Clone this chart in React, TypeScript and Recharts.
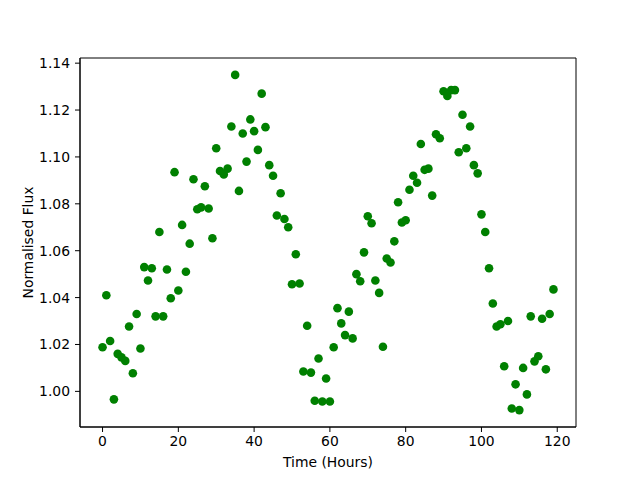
import React from "react";
import {
  ScatterChart,
  Scatter,
  XAxis,
  YAxis,
  ReferenceArea,
} from "recharts";

// hours since start of observation
const hours = [
  0, 1, 2, 3, 4, 5, 6, 7, 8, 9, 10, 11, 12, 13, 14, 15, 16, 17, 18, 19,
  20, 21, 22, 23, 24, 25, 26, 27, 28, 29, 30, 31, 32, 33, 34, 35, 36, 37, 38, 39,
  40, 41, 42, 43, 44, 45, 46, 47, 48, 49, 50, 51, 52, 53, 54, 55, 56, 57, 58, 59,
  60, 61, 62, 63, 64, 65, 66, 67, 68, 69, 70, 71, 72, 73, 74, 75, 76, 77, 78, 79,
  80, 81, 82, 83, 84, 85, 86, 87, 88, 89, 90, 91, 92, 93, 94, 95, 96, 97, 98, 99,
  100, 101, 102, 103, 104, 105, 106, 107, 108, 109, 110, 111, 112, 113, 114, 115, 116, 117, 118, 119,
];

// normalised flux, one reading per hour
const flux = [
  1.0188, 1.041, 1.0215, 0.9966, 1.016, 1.0145, 1.013, 1.0277, 1.0077, 1.033,
  1.0183, 1.053, 1.0473, 1.0525, 1.032, 1.068, 1.032, 1.052, 1.0397, 1.0935,
  1.043, 1.071, 1.051, 1.063, 1.0905, 1.0777, 1.0785, 1.0875, 1.078, 1.0653,
  1.1037, 1.094, 1.0925, 1.095, 1.113, 1.135, 1.0855, 1.11, 1.098, 1.116,
  1.111, 1.103, 1.127, 1.1127, 1.0965, 1.092, 1.075, 1.0845, 1.0735, 1.07,
  1.0457, 1.0585, 1.046, 1.0085, 1.028, 1.008, 0.996, 1.014, 0.9957, 1.0055,
  0.9957, 1.0188, 1.0355, 1.029, 1.024, 1.034, 1.0226, 1.05, 1.047, 1.0593,
  1.0747, 1.0717, 1.0473, 1.042, 1.019, 1.0567, 1.055, 1.064, 1.0807, 1.072,
  1.073, 1.086, 1.092, 1.089, 1.1055, 1.0945, 1.095, 1.0835, 1.1097, 1.108,
  1.128, 1.126, 1.1285, 1.1285, 1.102, 1.118, 1.1037, 1.113, 1.0965, 1.093,
  1.0755, 1.068, 1.0525, 1.0375, 1.0277, 1.0286, 1.0107, 1.03, 0.9927, 1.003,
  0.992, 1.01, 0.9987, 1.032, 1.0128, 1.015, 1.031, 1.0094, 1.033, 1.0435,
];

const xTicks = [0, 20, 40, 60, 80, 100, 120];
const yTicks = [1.0, 1.02, 1.04, 1.06, 1.08, 1.1, 1.12, 1.14];

const X_DOMAIN: [number, number] = [-5.95, 124.95];
const Y_DOMAIN: [number, number] = [0.9848, 1.1422];

const data = hours.map((h, i) => ({ hour: h, flux: flux[i] }));

const FONT = "DejaVu Sans";
const tickStyle = { fill: "#000", fontSize: 13.9, fontFamily: FONT };

const Dot = (props: any) => (
  <circle cx={props.cx} cy={props.cy} r={4.3} fill="#008000" />
);

const App: React.FC = () => (
  <div style={{ position: "fixed", left: 0, top: 0, background: "#fff" }}>
    <ScatterChart
      width={640}
      height={480}
      margin={{ top: 58, right: 64, bottom: 0, left: 0 }}
    >
      <XAxis
        type="number"
        dataKey="hour"
        domain={X_DOMAIN}
        ticks={xTicks}
        allowDataOverflow
        height={53}
        tick={tickStyle}
        tickSize={5}
        tickMargin={4}
        axisLine={{ stroke: "#000" }}
        tickLine={{ stroke: "#000" }}
        label={{
          value: "Time (Hours)",
          position: "insideBottom",
          offset: 13,
          style: { fill: "#000", fontSize: 13.9, fontFamily: FONT },
        }}
      />
      <YAxis
        type="number"
        dataKey="flux"
        domain={Y_DOMAIN}
        ticks={yTicks}
        allowDataOverflow
        width={80}
        tick={tickStyle}
        tickSize={5}
        tickMargin={5}
        tickFormatter={(v: number) => v.toFixed(2)}
        axisLine={{ stroke: "#000" }}
        tickLine={{ stroke: "#000" }}
        label={{
          value: "Normalised Flux",
          angle: -90,
          position: "insideLeft",
          offset: 28,
          style: {
            fill: "#000",
            fontSize: 13.9,
            fontFamily: FONT,
            textAnchor: "middle",
          },
        }}
      />
      <ReferenceArea
        x1={X_DOMAIN[0]}
        x2={X_DOMAIN[1]}
        y1={Y_DOMAIN[0]}
        y2={Y_DOMAIN[1]}
        fill="none"
        stroke="#000"
        strokeWidth={1}
        ifOverflow="visible"
      />
      <Scatter data={data} shape={Dot} isAnimationActive={false} />
    </ScatterChart>
  </div>
);

export default App;
